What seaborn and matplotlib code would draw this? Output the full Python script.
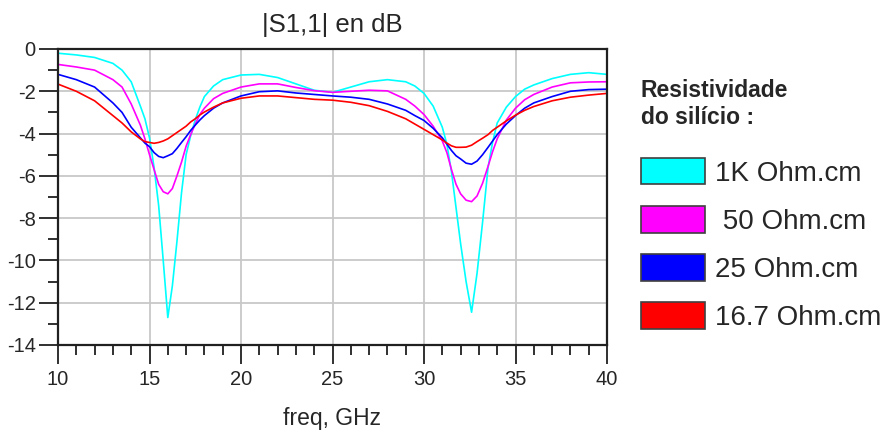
import numpy as np
import pandas as pd
import matplotlib
matplotlib.use("Agg")
import matplotlib.pyplot as plt
import seaborn as sns
from matplotlib.patches import Patch
from matplotlib.ticker import MultipleLocator

freq = [10, 11, 12, 13, 13.5, 14, 14.5, 14.75, 15, 15.25,
        15.5, 15.75, 16, 16.25, 16.5, 16.75, 17, 17.25, 17.5, 17.75,
        18, 18.5, 19, 20, 21, 22, 23, 24, 25, 26,
        27, 28, 29, 29.5, 30, 30.5, 31, 31.25, 31.5, 31.75,
        32, 32.3, 32.6, 32.9, 33.2, 33.5, 33.75, 34, 34.5, 35,
        35.5, 36, 37, 38, 39, 40]

s11_1k = [-0.2, -0.28, -0.4, -0.68, -1.0, -1.55, -2.7, -3.3, -4.2, -5.6,
          -7.4, -10.0, -12.7, -11.2, -9.1, -6.8, -5.0, -4.1, -3.35, -2.75,
          -2.25, -1.75, -1.45, -1.23, -1.2, -1.35, -1.65, -1.95, -2.05, -1.8,
          -1.55, -1.45, -1.55, -1.75, -2.1, -2.7, -3.7, -4.5, -5.8, -7.5,
          -9.2, -11.0, -12.45, -10.6, -8.2, -5.6, -4.4, -3.5, -2.75, -2.25,
          -1.9, -1.7, -1.4, -1.2, -1.12, -1.2]

s11_50 = [-0.73, -0.85, -1.0, -1.45, -1.8, -2.6, -3.6, -4.25, -5.0, -5.7,
          -6.4, -6.75, -6.85, -6.6, -6.0, -5.35, -4.6, -4.05, -3.55, -3.1,
          -2.8, -2.35, -2.1, -1.8, -1.65, -1.65, -1.82, -1.97, -2.05, -2.0,
          -1.95, -1.98, -2.38, -2.7, -3.1, -3.65, -4.35, -4.9, -5.7, -6.4,
          -6.85, -7.15, -7.22, -6.95, -6.35, -5.55, -4.85, -4.25, -3.36, -2.8,
          -2.4, -2.15, -1.8, -1.6, -1.56, -1.55]

s11_25 = [-1.2, -1.45, -1.8, -2.55, -3.0, -3.7, -4.2, -4.45, -4.62, -4.9,
          -5.08, -5.14, -5.05, -4.95, -4.7, -4.42, -4.15, -3.85, -3.6, -3.36,
          -3.15, -2.8, -2.55, -2.22, -2.02, -1.98, -2.08, -2.15, -2.22, -2.28,
          -2.38, -2.6, -2.9, -3.15, -3.38, -3.75, -4.2, -4.5, -4.8, -5.05,
          -5.2, -5.4, -5.45, -5.3, -5.0, -4.65, -4.35, -4.05, -3.55, -3.15,
          -2.8, -2.55, -2.25, -2.0, -1.92, -1.9]

s11_16 = [-1.66, -2.0, -2.45, -3.15, -3.5, -3.92, -4.25, -4.38, -4.42, -4.46,
          -4.42, -4.35, -4.25, -4.1, -3.95, -3.8, -3.65, -3.45, -3.3, -3.12,
          -2.98, -2.75, -2.55, -2.33, -2.22, -2.22, -2.3, -2.38, -2.42, -2.52,
          -2.68, -2.95, -3.3, -3.55, -3.8, -4.05, -4.3, -4.45, -4.58, -4.65,
          -4.65, -4.64, -4.55, -4.38, -4.22, -4.05, -3.85, -3.7, -3.4, -3.13,
          -2.9, -2.72, -2.45, -2.28, -2.18, -2.1]

labels = ["1K Ohm.cm", " 50 Ohm.cm", "25 Ohm.cm", "16.7 Ohm.cm"]
colors = ["#00FFFF", "#FF00FF", "#0000FF", "#FF0000"]
legend_title = "Resistividade\ndo silício :"

series = [s11_1k, s11_50, s11_25, s11_16]
df = pd.concat([pd.DataFrame({"freq": freq, "dB": s, "res": lab})
                for s, lab in zip(series, labels)], ignore_index=True)

sns.set_style("white")
plt.rcParams["font.family"] = ["Liberation Sans", "DejaVu Sans"]
plt.rcParams["axes.unicode_minus"] = False

fig = plt.figure(figsize=(8.87, 4.30), dpi=100)
ax = fig.add_axes([58 / 887, 1 - 345 / 430, (607 - 58) / 887, (345 - 49) / 430])

sns.lineplot(data=df, x="freq", y="dB", hue="res", palette=dict(zip(labels, colors)),
             hue_order=labels, linewidth=1.2, legend=False, ax=ax, sort=False)

ax.set_xlim(10, 40)
ax.set_ylim(-14, 0)
ax.xaxis.set_major_locator(MultipleLocator(5))
ax.xaxis.set_minor_locator(MultipleLocator(1))
ax.yaxis.set_major_locator(MultipleLocator(2))
ax.yaxis.set_minor_locator(MultipleLocator(1))
ax.grid(True, which="major", color="#c8c8c8", linewidth=1.3)
ax.set_axisbelow(True)
ax.tick_params(axis="both", which="major", direction="out", length=14, width=1.3,
               color="#202020", labelsize=14.5, pad=2)
ax.tick_params(axis="x", which="major", pad=4)
ax.tick_params(axis="both", which="minor", direction="out", length=7, width=1.3,
               color="#202020")
ax.tick_params(axis="y", which="both", left=True)
ax.tick_params(axis="x", which="both", bottom=True)
for side, sp in ax.spines.items():
    sp.set_visible(True)
    sp.set_color("#202020")
    sp.set_linewidth(1.6)

ax.set_xlabel("freq, GHz", fontsize=16.5, labelpad=13)
ax.set_ylabel("")
ax.set_title("|S1,1| en dB", fontsize=18.5, pad=12)

handles = [Patch(facecolor=c, edgecolor="#404040", linewidth=1.2) for c in colors]
leg = ax.legend(handles, labels, title=legend_title, loc="upper left",
                bbox_to_anchor=(641 / 887, 1 - 79 / 430), bbox_transform=fig.transFigure,
                frameon=False, fontsize=20, handlelength=2.3, handleheight=1.1,
                handletextpad=0.38, labelspacing=0.7, borderaxespad=0, borderpad=0,
                alignment="left",
                title_fontproperties={"weight": "bold", "size": 16.5})
leg._legend_box.sep = 21

fig.savefig("out.png", dpi=100)
